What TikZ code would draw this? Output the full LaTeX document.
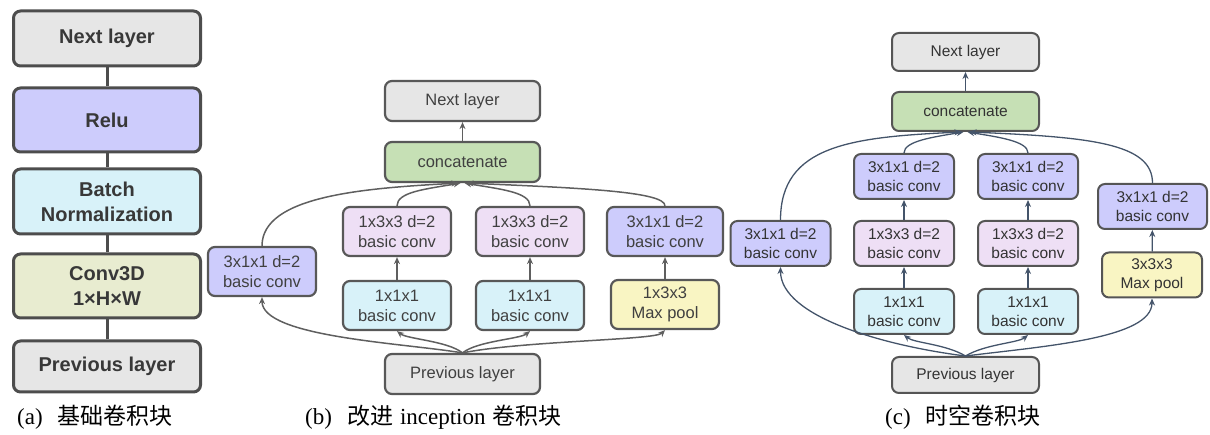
\documentclass[tikz,border=0pt]{standalone}
\usepackage{fontspec}
\usepackage{tikz}
\usetikzlibrary{arrows.meta,calc}
\setmainfont{Liberation Serif}
\newfontfamily\boxfont{Liberation Sans}
\newfontfamily\cjk{Noto Sans CJK SC}

\definecolor{layergray}{HTML}{E6E6E6}
\definecolor{convpurple}{HTML}{CDCCFC}
\definecolor{normcyan}{HTML}{D8F2F9}
\definecolor{convolive}{HTML}{E8ECD0}
\definecolor{concatgreen}{HTML}{C6E0B5}
\definecolor{convpink}{HTML}{EEDFF5}
\definecolor{poolyellow}{HTML}{F9F5C3}
\definecolor{edgeA}{HTML}{4D4D4D}
\definecolor{edgeB}{HTML}{585858}
\definecolor{edgeC}{HTML}{555555}
\definecolor{arrowB}{HTML}{5F5F5F}
\definecolor{arrowC}{HTML}{44546A}

\tikzset{
  blk/.style={rounded corners=7pt, align=center, inner sep=0pt},
  blkA/.style={blk, draw=edgeA, line width=3pt, minimum width=187pt,
    text=black!78, font=\boxfont\bfseries\fontsize{20}{25}\selectfont},
  blkB/.style={blk, draw=edgeB, line width=2.2pt, minimum width=108pt,
    minimum height=49pt, text=black!75,
    font=\boxfont\fontsize{16.5}{20}\selectfont},
  blkC/.style={blk, draw=edgeC, line width=2pt, minimum width=100pt,
    minimum height=45pt, text=black!80,
    font=\boxfont\fontsize{15.5}{18.5}\selectfont},
  linkA/.style={draw=edgeA, line width=3pt},
  flowB/.style={draw=arrowB, line width=1.5pt,
    -{Stealth[length=7pt,width=6pt]}},
  flowC/.style={draw=arrowC, line width=1.3pt,
    -{Stealth[length=7pt,width=6pt]}},
  capt/.style={anchor=west, inner sep=0pt,
    font=\fontsize{23}{27}\selectfont}
}

\begin{document}
\begin{tikzpicture}[x=1pt,y=-1pt]
  \useasboundingbox (0,0) rectangle (1210,435);

  % (a) basic block
  \node[blkA, fill=layergray, minimum height=55pt] (nextA) at (107,38.5) {Next layer};
  \node[blkA, fill=convpurple, minimum height=64pt] (reluA) at (107,120) {Relu};
  \node[blkA, fill=normcyan, minimum height=65pt] (bnA) at (107,201.5) {Batch\\Normalization};
  \node[blkA, fill=convolive, minimum height=64pt] (convA) at (107,286) {Conv3D\\1×H×W};
  \node[blkA, fill=layergray, minimum height=51pt] (prevA) at (107,366.5) {Previous layer};
  \draw[linkA] (prevA) -- (convA);
  \draw[linkA] (convA) -- (bnA);
  \draw[linkA] (bnA) -- (reluA);
  \draw[linkA] (reluA) -- (nextA);
  \node[capt] (capA) at (17,417) {(a)\hspace{15pt}{\cjk 基础卷积块}};

  % (b) inception block
  \node[blkB, fill=layergray, minimum width=155pt, minimum height=40pt] (nextB) at (462.5,101) {Next layer};
  \node[blkB, fill=concatgreen, minimum width=155pt, minimum height=40pt] (concB) at (462.5,162) {concatenate};
  \node[blkB, fill=convpurple] (sideB) at (262,271.5) {3x1x1 d=2\\basic conv};
  \node[blkB, fill=convpink] (midB1) at (397,231.5) {1x3x3 d=2\\basic conv};
  \node[blkB, fill=normcyan] (inB1) at (397,305.5) {1x1x1\\basic conv};
  \node[blkB, fill=convpink] (midB2) at (530,231.5) {1x3x3 d=2\\basic conv};
  \node[blkB, fill=normcyan] (inB2) at (530,305.5) {1x1x1\\basic conv};
  \node[blkB, fill=convpurple, minimum width=116pt] (topB3) at (665,231.5) {3x1x1 d=2\\basic conv};
  \node[blkB, fill=poolyellow] (poolB) at (665,304.5) {1x3x3\\Max pool};
  \node[blkB, fill=layergray, minimum width=155pt, minimum height=40pt] (prevB) at (462.5,374) {Previous layer};
  % inside the branches
  \draw[flowB] (concB) -- (nextB);
  \draw[flowB] (inB1) -- (midB1);
  \draw[flowB] (inB2) -- (midB2);
  \draw[flowB] (poolB) -- (topB3);
  % into concatenate
  \draw[flowB] (sideB.north) .. controls +(0,-50) and +(-95,5) .. ($(concB.south)+(-4,0)$);
  \draw[flowB] (midB1.north) .. controls +(0,-14) and +(-35,6) .. ($(concB.south)+(-2,0)$);
  \draw[flowB] (midB2.north) .. controls +(0,-14) and +(35,6) .. ($(concB.south)+(2,0)$);
  \draw[flowB] (topB3.north) .. controls +(0,-14) and +(120,5) .. ($(concB.south)+(4,0)$);
  % out of previous layer
  \draw[flowB] (prevB.north) .. controls +(-60,-10) and +(0,40) .. (sideB.south);
  \draw[flowB] (prevB.north) .. controls +(-15,-12) and +(10,8) .. (inB1.south);
  \draw[flowB] (prevB.north) .. controls +(15,-12) and +(-10,8) .. (inB2.south);
  \draw[flowB] (prevB.north) .. controls +(60,-12) and +(-10,10) .. (poolB.south);
  \node[capt] (capB) at (305,417) {(b)\hspace{15pt}{\cjk 改进}\hspace{7pt}inception\hspace{7pt}{\cjk 卷积块}};

  % (c) spatio-temporal block
  \node[blkC, fill=layergray, minimum width=147pt, minimum height=38pt] (nextC) at (965.5,52) {Next layer};
  \node[blkC, fill=concatgreen, minimum width=147pt, minimum height=39pt] (concC) at (965.5,111.5) {concatenate};
  \node[blkC, fill=convpurple] (sideC) at (780.5,243.5) {3x1x1 d=2\\basic conv};
  \node[blkC, fill=convpurple] (topC1) at (904,176.5) {3x1x1 d=2\\basic conv};
  \node[blkC, fill=convpink] (midC1) at (904,243.5) {1x3x3 d=2\\basic conv};
  \node[blkC, fill=normcyan] (inC1) at (904,311.5) {1x1x1\\basic conv};
  \node[blkC, fill=convpurple] (topC2) at (1028,176.5) {3x1x1 d=2\\basic conv};
  \node[blkC, fill=convpink] (midC2) at (1028,243.5) {1x3x3 d=2\\basic conv};
  \node[blkC, fill=normcyan] (inC2) at (1028,311.5) {1x1x1\\basic conv};
  \node[blkC, fill=convpurple, minimum width=109pt] (topC3) at (1152.5,206.5) {3x1x1 d=2\\basic conv};
  \node[blkC, fill=poolyellow] (poolC) at (1152,275) {3x3x3\\Max pool};
  \node[blkC, fill=layergray, minimum width=147pt, minimum height=36pt] (prevC) at (965.5,375) {Previous layer};
  % inside the branches
  \draw[flowC] (concC) -- (nextC);
  \draw[flowC] (inC1) -- (midC1);
  \draw[flowC] (midC1) -- (topC1);
  \draw[flowC] (inC2) -- (midC2);
  \draw[flowC] (midC2) -- (topC2);
  \draw[flowC] (poolC) -- (topC3);
  % into concatenate
  \draw[flowC] (sideC.north) .. controls +(0,-75) and +(-110,5) .. ($(concC.south)+(-4,0)$);
  \draw[flowC] (topC1.north) .. controls +(0,-12) and +(-30,5) .. ($(concC.south)+(-2,0)$);
  \draw[flowC] (topC2.north) .. controls +(0,-12) and +(30,5) .. ($(concC.south)+(2,0)$);
  \draw[flowC] (topC3.north) .. controls +(0,-40) and +(120,5) .. ($(concC.south)+(4,0)$);
  % out of previous layer
  \draw[flowC] (prevC.north) .. controls +(-80,-10) and +(0,50) .. (sideC.south);
  \draw[flowC] (prevC.north) .. controls +(-20,-12) and +(10,8) .. (inC1.south);
  \draw[flowC] (prevC.north) .. controls +(20,-12) and +(-10,8) .. (inC2.south);
  \draw[flowC] (prevC.north) .. controls +(80,-10) and +(0,40) .. (poolC.south);
  \node[capt] (capC) at (885,417) {(c)\hspace{15pt}{\cjk 时空卷积块}};
\end{tikzpicture}
\end{document}
